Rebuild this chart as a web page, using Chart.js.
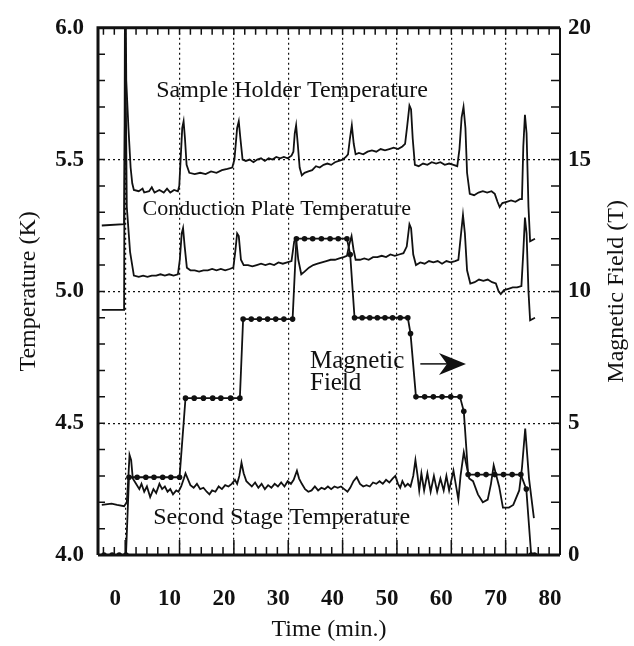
<!DOCTYPE html>
<html>
<head>
<meta charset="utf-8">
<script src="https://cdn.jsdelivr.net/npm/chart.js@4.4.0/dist/chart.umd.min.js"></script>
<style>
  html, body { margin: 0; padding: 0; background: #fff; }
  canvas { display: block; }
</style>
</head>
<body>
<canvas id="tempChart" width="634" height="646"></canvas>
<script>
// Values (time in min, temperature in K, field in T)

const shTime = [-4.3, -0.2, 0.0, 0.2, 0.6, 1.0, 1.3, 1.6, 2.5, 3.2, 3.5, 4.4, 4.9, 5.4, 6.3, 7.1, 7.7, 8.3, 9.0, 9.7,
  9.95, 10.2, 10.5, 10.75, 11.0, 11.3, 11.8, 12.8, 13.8, 14.8, 15.8, 16.8, 17.8, 18.8, 19.7,
  20.1, 20.6, 20.9, 21.2, 21.6, 22.2, 22.9, 23.6, 24.3, 25.0, 25.7, 26.4, 27.1, 27.8, 28.5, 29.2, 29.9, 30.6,
  30.95, 31.2, 31.45, 31.75, 32.1, 32.5, 33.0, 33.7, 34.4, 35.1, 35.8, 36.5, 37.2, 37.9, 38.6, 39.3, 40.0, 40.6,
  41.0, 41.35, 41.7, 42.05, 42.4, 43.0, 43.8, 44.6, 45.4, 46.2, 47.0, 47.8, 48.6, 49.4, 50.2, 51.0,
  51.5, 51.9, 52.3, 52.6, 52.9, 53.3, 54.0, 54.8, 55.6, 56.4, 57.2, 58.0, 58.8, 59.6, 60.4, 61.1,
  61.5, 61.9, 62.25, 62.6, 62.9, 63.4, 64.2, 65.0, 65.8, 66.6, 67.4, 68.0, 68.5, 68.9, 69.4, 70.2, 71.0, 71.8, 72.6, 73.0,
  73.25, 73.55, 73.85, 74.2, 74.5, 75.4];
const shTemp = [4.93, 4.93, 6.4, 5.80, 5.62, 5.47, 5.41, 5.385, 5.38, 5.39, 5.375, 5.38, 5.395, 5.375, 5.385, 5.375, 5.39, 5.375, 5.385, 5.38,
  5.40, 5.50, 5.62, 5.645, 5.58, 5.48, 5.45, 5.445, 5.45, 5.445, 5.455, 5.45, 5.46, 5.465, 5.47,
  5.50, 5.62, 5.645, 5.58, 5.50, 5.495, 5.50, 5.49, 5.50, 5.505, 5.495, 5.505, 5.50, 5.51, 5.505, 5.51, 5.505, 5.515,
  5.53, 5.60, 5.63, 5.56, 5.47, 5.44, 5.45, 5.455, 5.46, 5.475, 5.47, 5.48, 5.485, 5.48, 5.49, 5.495, 5.50, 5.51,
  5.52, 5.58, 5.63, 5.56, 5.52, 5.525, 5.52, 5.53, 5.535, 5.53, 5.54, 5.535, 5.54, 5.545, 5.54, 5.55,
  5.56, 5.63, 5.705, 5.69, 5.58, 5.48, 5.475, 5.485, 5.48, 5.49, 5.485, 5.49, 5.48, 5.485, 5.48, 5.475,
  5.54, 5.66, 5.70, 5.62, 5.45, 5.37, 5.365, 5.375, 5.38, 5.375, 5.38, 5.37, 5.34, 5.32, 5.335, 5.34, 5.345, 5.34, 5.35, 5.35,
  5.55, 5.67, 5.60, 5.32, 5.19, 5.20];

const cpTime = [-4.3, -0.2, 0.05, 0.3, 0.9, 1.6, 2.5, 3.3, 4.1, 4.9, 5.7, 6.5, 7.3, 8.1, 8.9, 9.7,
  10.05, 10.4, 10.65, 10.95, 11.35, 12.0, 12.8, 13.6, 14.4, 15.2, 16.0, 16.8, 17.6, 18.4, 19.2, 19.9,
  20.25, 20.6, 20.9, 21.3, 21.8, 22.6, 23.4, 24.2, 25.0, 25.8, 26.6, 27.4, 28.2, 29.0, 29.8, 30.6,
  31.1, 31.45, 31.85, 32.4, 33.0, 33.8, 34.6, 35.4, 36.2, 37.0, 37.8, 38.6, 39.4, 40.2, 40.8,
  41.25, 41.65, 42.0, 42.4, 43.2, 44.0, 44.8, 45.6, 46.4, 47.2, 48.0, 48.8, 49.6, 50.4, 51.2,
  51.8, 52.3, 52.6, 53.0, 53.5, 54.3, 55.1, 55.9, 56.7, 57.5, 58.3, 59.1, 59.9, 60.7, 61.3,
  61.7, 62.15, 62.5, 62.9, 63.5, 64.3, 65.1, 65.9, 66.7, 67.5, 68.2, 68.7, 69.1, 69.7, 70.5, 71.3, 72.1, 72.9,
  73.25, 73.55, 73.85, 74.2, 74.5, 75.4];
const cpTemp = [5.25, 5.255, 5.9, 5.32, 5.15, 5.06, 5.055, 5.06, 5.055, 5.06, 5.06, 5.065, 5.06, 5.065, 5.06, 5.065,
  5.12, 5.22, 5.24, 5.17, 5.09, 5.08, 5.08, 5.075, 5.08, 5.08, 5.085, 5.08, 5.085, 5.08, 5.085, 5.09,
  5.15, 5.22, 5.21, 5.12, 5.10, 5.10, 5.095, 5.10, 5.105, 5.10, 5.105, 5.10, 5.11, 5.105, 5.11, 5.115,
  5.19, 5.20, 5.12, 5.065, 5.075, 5.09, 5.10, 5.105, 5.11, 5.115, 5.12, 5.12, 5.125, 5.13, 5.135,
  5.18, 5.21, 5.16, 5.12, 5.12, 5.125, 5.12, 5.13, 5.13, 5.135, 5.13, 5.14, 5.135, 5.14, 5.145,
  5.17, 5.255, 5.24, 5.14, 5.10, 5.11, 5.105, 5.115, 5.11, 5.115, 5.105, 5.115, 5.11, 5.115, 5.12,
  5.20, 5.29, 5.22, 5.08, 5.03, 5.035, 5.045, 5.04, 5.045, 5.035, 5.03, 5.00, 4.99, 5.005, 5.01, 5.015, 5.015, 5.02,
  5.15, 5.28, 5.22, 5.00, 4.89, 4.90];

const ssTime = [-4.3, -2.5, -1.5, -0.2, 0.3, 0.6, 0.8, 1.1, 1.4, 2.0, 2.6, 3.0, 3.5, 4.0, 4.6, 5.2, 5.7, 6.3, 6.8, 7.3, 7.8, 8.3, 8.8, 9.4, 9.8,
  10.3, 10.8, 11.1, 11.5, 12.0, 12.6, 13.2, 13.8, 14.4, 15.0, 15.5, 16.0, 16.6, 17.2, 17.8, 18.4, 19.0, 19.6,
  20.2, 20.6, 21.0, 21.4, 21.8, 22.3, 22.8, 23.3, 23.9, 24.5, 25.1, 25.7, 26.3, 26.9, 27.5, 28.1, 28.7, 29.3, 29.9, 30.5,
  31.0, 31.6, 32.0, 32.5, 33.1, 33.7, 34.3, 34.9, 35.5, 36.1, 36.7, 37.3, 37.9, 38.5, 39.1, 39.7, 40.3, 40.9,
  41.4, 42.0, 42.6, 43.2, 43.8, 44.4, 45.0, 45.6, 46.2, 46.8, 47.4, 48.0, 48.6, 49.2, 49.7, 50.2, 50.6, 51.0, 51.5, 52.0, 52.5,
  53.0, 53.4, 53.8, 54.1, 54.5, 55.0, 55.6, 56.2, 56.8, 57.4, 58.0, 58.6, 59.1, 59.6, 60.4, 61.3, 61.7, 62.3, 62.7,
  63.3, 64.0, 64.9, 65.8, 66.7, 67.3, 67.8, 68.3, 68.8, 69.5, 70.6, 71.4, 72.5, 73.0, 73.6, 74.3, 75.2];
const ssTemp = [4.19, 4.195, 4.19, 4.185, 4.20, 4.30, 4.38, 4.36, 4.29, 4.27, 4.25, 4.27, 4.24, 4.26, 4.22, 4.25, 4.235, 4.27, 4.25, 4.26, 4.24, 4.25, 4.23, 4.245, 4.24,
  4.26, 4.29, 4.31, 4.29, 4.265, 4.255, 4.27, 4.25, 4.255, 4.24, 4.23, 4.245, 4.24, 4.26, 4.25, 4.265, 4.26, 4.27,
  4.285, 4.27, 4.30, 4.35, 4.31, 4.28, 4.27, 4.26, 4.275, 4.255, 4.27, 4.25, 4.265, 4.255, 4.27, 4.26, 4.275, 4.26, 4.28, 4.27,
  4.285, 4.32, 4.29, 4.27, 4.25, 4.24, 4.245, 4.26, 4.245, 4.255, 4.25, 4.26, 4.25, 4.26, 4.255, 4.26, 4.25, 4.24,
  4.255, 4.28, 4.295, 4.27, 4.26, 4.265, 4.26, 4.275, 4.27, 4.28, 4.27, 4.285, 4.275, 4.29, 4.30, 4.27, 4.255, 4.28, 4.26, 4.27, 4.26,
  4.30, 4.36, 4.30, 4.245, 4.31, 4.245, 4.31, 4.24, 4.30, 4.24, 4.29, 4.245, 4.30, 4.245, 4.32, 4.21, 4.30, 4.39, 4.35,
  4.29, 4.28, 4.23, 4.20, 4.21, 4.27, 4.34, 4.30, 4.26, 4.18, 4.18, 4.19, 4.245, 4.33, 4.48, 4.29, 4.14];

const fieldTime = [-3.9, -2.4, -1.1, 0.15,
  0.7, 2.2, 3.8, 5.3, 6.9, 8.4, 10.0,
  11.1, 12.7, 14.4, 16.1, 17.6, 19.4, 21.1,
  21.7, 23.2, 24.7, 26.2, 27.7, 29.2, 30.8,
  31.5, 33.0, 34.5, 36.1, 37.7, 39.2, 40.8, 41.4,
  42.2, 43.6, 45.0, 46.4, 47.8, 49.2, 50.6, 52.0, 52.5,
  53.5, 55.1, 56.7, 58.3, 59.9, 61.6, 62.3,
  63.1, 64.8, 66.4, 68.0, 69.6, 71.2, 72.8, 73.8,
  74.7, 75.3];
const fieldTesla = [0, 0, 0, 0,
  2.95, 2.95, 2.95, 2.95, 2.95, 2.95, 2.95,
  5.95, 5.95, 5.95, 5.95, 5.95, 5.95, 5.95,
  8.95, 8.95, 8.95, 8.95, 8.95, 8.95, 8.95,
  12.0, 12.0, 12.0, 12.0, 12.0, 12.0, 12.0, 11.4,
  9.0, 9.0, 9.0, 9.0, 9.0, 9.0, 9.0, 9.0, 8.4,
  6.0, 6.0, 6.0, 6.0, 6.0, 6.0, 5.45,
  3.05, 3.05, 3.05, 3.05, 3.05, 3.05, 3.05, 2.5,
  0, 0];

// Tick labels
const timeTicks = [0, 10, 20, 30, 40, 50, 60, 70, 80];
const tempTicks = [4.0, 4.5, 5.0, 5.5, 6.0];
const fieldTicks = [0, 5, 10, 15, 20];

const INK = '#111';
const SERIF = "'Liberation Serif', 'Times New Roman', serif";

// Labels written inside the plot, placed in data coordinates
const notes = [
  {text: 'Sample Holder Temperature', t: 30.7, k: 5.762, size: 24, align: 'center'},
  {text: 'Conduction Plate Temperature', t: 27.9, k: 5.31, size: 22, align: 'center'},
  {text: 'Second Stage Temperature', t: 28.8, k: 4.14, size: 24, align: 'center'},
  {text: 'Magnetic', t: 34.0, k: 4.736, size: 25, align: 'left'},
  {text: 'Field', t: 34.0, k: 4.65, size: 25, align: 'left'}
];

function toPoints(xs, ys) {
  return xs.map((v, i) => ({x: v, y: ys[i]}));
}

// Frame, inward ticks, annotations, arrow and the right-hand axis title
const frameAndNotes = {
  id: 'frameAndNotes',
  afterDatasetsDraw(chart) {
    const {ctx, chartArea: a, scales: {x, y, y2}} = chart;
    ctx.save();
    ctx.strokeStyle = INK;
    ctx.lineWidth = 1.5;
    ctx.beginPath();
    for (let t = -4; t < 80; t += 2) {
      const px = x.getPixelForValue(t);
      ctx.moveTo(px, a.bottom);
      ctx.lineTo(px, a.bottom - (t % 10 === 0 ? 15 : 8));
      ctx.moveTo(px, a.top);
      ctx.lineTo(px, a.top + 7);
    }
    for (let i = 1; i < 20; i++) {
      const py = y.getPixelForValue(4 + i * 0.1);
      ctx.moveTo(a.left, py);
      ctx.lineTo(a.left + 7, py);
    }
    for (let i = 1; i < 20; i++) {
      const py = y2.getPixelForValue(i);
      ctx.moveTo(a.right, py);
      ctx.lineTo(a.right - 9, py);
    }
    ctx.stroke();

    // heavier frame on left, top and bottom
    ctx.lineWidth = 3;
    ctx.beginPath();
    ctx.moveTo(a.left, a.bottom);
    ctx.lineTo(a.left, a.top);
    ctx.lineTo(a.right, a.top);
    ctx.moveTo(a.left, a.bottom);
    ctx.lineTo(a.right, a.bottom);
    ctx.stroke();
    ctx.lineWidth = 2;
    ctx.beginPath();
    ctx.moveTo(a.right, a.top);
    ctx.lineTo(a.right, a.bottom);
    ctx.stroke();

    ctx.fillStyle = INK;
    ctx.textBaseline = 'middle';
    notes.forEach(n => {
      ctx.font = n.size + 'px ' + SERIF;
      ctx.textAlign = n.align;
      ctx.fillText(n.text, x.getPixelForValue(n.t), y.getPixelForValue(n.k));
    });

    // arrow pointing to the field axis
    const ay = y.getPixelForValue(4.725);
    const ax1 = x.getPixelForValue(54.3);
    const ax2 = x.getPixelForValue(62.7);
    ctx.lineWidth = 1.5;
    ctx.beginPath();
    ctx.moveTo(ax1, ay);
    ctx.lineTo(ax2 - 15, ay);
    ctx.stroke();
    ctx.beginPath();
    ctx.moveTo(ax2, ay);
    ctx.lineTo(ax2 - 27, ay - 11);
    ctx.lineTo(ax2 - 19, ay);
    ctx.lineTo(ax2 - 27, ay + 11);
    ctx.closePath();
    ctx.fill();

    // right axis title reads bottom to top, like the left one
    ctx.translate(y2.right - 17, (a.top + a.bottom) / 2);
    ctx.rotate(-Math.PI / 2);
    ctx.font = '24px ' + SERIF;
    ctx.textAlign = 'center';
    ctx.fillText('Magnetic Field (T)', 0, 0);
    ctx.restore();
  }
};

function majorGrid(values) {
  return ctx => (ctx.tick && values.includes(ctx.tick.value)) ? INK : 'transparent';
}

const lineStyle = {borderColor: INK, borderWidth: 1.8, pointRadius: 0, tension: 0, fill: false};

new Chart(document.getElementById('tempChart'), {
  type: 'line',
  data: {
    datasets: [
      Object.assign({label: 'Sample Holder Temperature', data: toPoints(shTime, shTemp), yAxisID: 'y'}, lineStyle),
      Object.assign({label: 'Conduction Plate Temperature', data: toPoints(cpTime, cpTemp), yAxisID: 'y'}, lineStyle),
      Object.assign({label: 'Second Stage Temperature', data: toPoints(ssTime, ssTemp), yAxisID: 'y'}, lineStyle),
      {
        label: 'Magnetic Field',
        data: toPoints(fieldTime, fieldTesla),
        yAxisID: 'y2',
        borderColor: INK,
        borderWidth: 1.8,
        tension: 0,
        pointRadius: 2.8,
        pointBackgroundColor: INK,
        pointBorderWidth: 0
      }
    ]
  },
  options: {
    responsive: false,
    animation: false,
    devicePixelRatio: 1,
    layout: {padding: {top: 25, left: 0, right: 0, bottom: 0}},
    plugins: {legend: {display: false}, tooltip: {enabled: false}},
    scales: {
      x: {
        type: 'linear',
        min: -5,
        max: 80,
        afterBuildTicks: s => { s.ticks = timeTicks.map(v => ({value: v})); },
        afterFit: s => { s.height = 91; },
        ticks: {
          color: INK,
          font: {family: SERIF, size: 23, weight: 'bold'},
          padding: 30,
          labelOffset: -10,
          maxRotation: 0,
          callback: v => v
        },
        grid: {color: majorGrid([0, 10, 20, 30, 40, 50, 60, 70]), lineWidth: 1.2, drawTicks: false},
        border: {display: false, dash: [2, 3]},
        title: {display: true, text: 'Time (min.)', color: INK, font: {family: SERIF, size: 24}, padding: {top: 0, bottom: 2}}
      },
      y: {
        type: 'linear',
        position: 'left',
        min: 4,
        max: 6,
        afterBuildTicks: s => { s.ticks = tempTicks.map(v => ({value: v})); },
        afterFit: s => { s.width = 98; },
        ticks: {
          color: INK,
          font: {family: SERIF, size: 23, weight: 'bold'},
          padding: 14,
          callback: v => v.toFixed(1)
        },
        grid: {color: majorGrid([4.5, 5.0, 5.5]), lineWidth: 1.2, drawTicks: false},
        border: {display: false, dash: [2, 3]},
        title: {display: true, text: 'Temperature (K)', color: INK, font: {family: SERIF, size: 24}, padding: {top: 14, bottom: 0}}
      },
      y2: {
        type: 'linear',
        position: 'right',
        min: 0,
        max: 20,
        afterBuildTicks: s => { s.ticks = fieldTicks.map(v => ({value: v})); },
        afterFit: s => { s.width = 74; },
        ticks: {
          color: INK,
          font: {family: SERIF, size: 23, weight: 'bold'},
          padding: 8,
          callback: v => v
        },
        grid: {display: false, drawTicks: false},
        border: {display: false}
      }
    }
  },
  plugins: [frameAndNotes]
});
</script>
</body>
</html>
